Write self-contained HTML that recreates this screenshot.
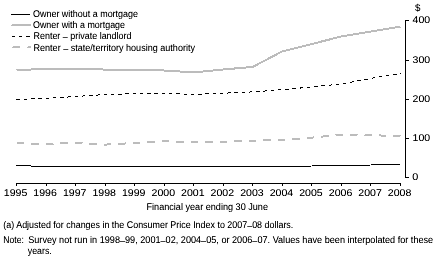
<!DOCTYPE html>
<html><head><meta charset="utf-8"><style>
html,body{margin:0;padding:0;background:#fff;width:435px;height:265px;overflow:hidden}
svg{display:block;position:absolute;left:0;top:0;will-change:transform}
</style></head><body>
<svg width="435" height="265" viewBox="0 0 435 265">
<g shape-rendering="crispEdges">
<path d="M11,14h19v1h-19z" fill="#000"/>
<path d="M11,25h1v1h-1zM12,24h19v2h-19z" fill="#bcbcbc"/>
<path d="M12,36h3v1h-3zM19,36h3v1h-3zM26,36h4v1h-4z" fill="#000"/>
<path d="M12,47h1v1h-1zM13,46h7v2h-7zM27,47h1v1h-1zM28,46h3v2h-3z" fill="#bcbcbc"/>
<path d="M16.5,186 V183.5 H400.5 V186" fill="none" stroke="#000" stroke-width="1"/>
<line x1="46.04" y1="183" x2="46.04" y2="186" stroke="#000" stroke-width="1"/>
<line x1="75.58" y1="183" x2="75.58" y2="186" stroke="#000" stroke-width="1"/>
<line x1="105.12" y1="183" x2="105.12" y2="186" stroke="#000" stroke-width="1"/>
<line x1="134.65" y1="183" x2="134.65" y2="186" stroke="#000" stroke-width="1"/>
<line x1="164.19" y1="183" x2="164.19" y2="186" stroke="#000" stroke-width="1"/>
<line x1="193.73" y1="183" x2="193.73" y2="186" stroke="#000" stroke-width="1"/>
<line x1="223.27" y1="183" x2="223.27" y2="186" stroke="#000" stroke-width="1"/>
<line x1="252.81" y1="183" x2="252.81" y2="186" stroke="#000" stroke-width="1"/>
<line x1="282.35" y1="183" x2="282.35" y2="186" stroke="#000" stroke-width="1"/>
<line x1="311.88" y1="183" x2="311.88" y2="186" stroke="#000" stroke-width="1"/>
<line x1="341.42" y1="183" x2="341.42" y2="186" stroke="#000" stroke-width="1"/>
<line x1="370.96" y1="183" x2="370.96" y2="186" stroke="#000" stroke-width="1"/>
<path d="M409,20.5 H405.5 V177.5 H409" fill="none" stroke="#000" stroke-width="1"/>
<line x1="405" y1="60.5" x2="409" y2="60.5" stroke="#000" stroke-width="1"/>
<line x1="405" y1="99.5" x2="409" y2="99.5" stroke="#000" stroke-width="1"/>
<line x1="405" y1="138.5" x2="409" y2="138.5" stroke="#000" stroke-width="1"/>
<polyline points="16.50,165.50 46.04,166.50 75.58,166.50 105.12,166.50 134.65,166.50 164.19,166.50 193.73,166.50 223.27,166.50 252.81,166.50 282.35,166.50 311.88,166.00 341.42,165.50 370.96,165.00 400.50,164.50" fill="none" stroke="#000" stroke-width="1"/>
<polyline points="16.50,70.00 46.04,69.00 75.58,69.00 105.12,69.55 134.65,70.00 164.19,70.50 193.73,72.40 223.27,69.50 252.81,66.90 282.35,51.35 311.88,44.00 341.42,36.45 370.96,31.45 400.50,26.55" fill="none" stroke="#bcbcbc" stroke-width="2"/>
<polyline points="16.50,99.50 46.04,98.50 75.58,96.50 105.12,94.50 134.65,93.70 164.19,93.34 193.73,94.50 223.27,93.20 252.81,91.90 282.35,89.70 311.88,86.95 341.42,83.90 370.96,78.40 400.50,73.40" fill="none" stroke="#000" stroke-width="1" stroke-dasharray="3.5 3.77"/>
<polyline points="16.50,143.30 46.04,143.70 75.58,143.10 105.12,144.60 134.65,143.00 164.19,141.20 193.73,142.40 223.27,142.00 252.81,140.55 282.35,140.45 311.88,137.60 341.42,134.70 370.96,135.30 400.50,135.90" fill="none" stroke="#bcbcbc" stroke-width="2" stroke-dasharray="7.5 7" stroke-dashoffset="-0.5"/>
</g>
<filter id="dk" x="0" y="0" width="435" height="265" filterUnits="userSpaceOnUse"><feComponentTransfer><feFuncA type="linear" slope="1.15" intercept="0"/></feComponentTransfer></filter>
<g font-family="Liberation Sans, sans-serif" fill="#000" text-rendering="geometricPrecision" filter="url(#dk)">
<text x="33" y="17" font-size="9.8" textLength="105" lengthAdjust="spacingAndGlyphs">Owner without a mortgage</text>
<text x="33" y="28" font-size="9.8" textLength="92" lengthAdjust="spacingAndGlyphs">Owner with a mortgage</text>
<text x="33.5" y="39" font-size="9.8" textLength="98" lengthAdjust="spacingAndGlyphs">Renter <tspan dy="0.8">–</tspan><tspan dy="-0.8"> private landlord</tspan></text>
<text x="33.5" y="51" font-size="9.8" textLength="161.5" lengthAdjust="spacingAndGlyphs">Renter <tspan dy="0.8">–</tspan><tspan dy="-0.8"> state/territory housing authority</tspan></text>
<text x="415" y="11" font-size="9.8">$</text>
<text x="412.6" y="23" font-size="9.8" textLength="17.6" lengthAdjust="spacingAndGlyphs">400</text>
<text x="412.6" y="63" font-size="9.8" textLength="17.6" lengthAdjust="spacingAndGlyphs">300</text>
<text x="412.6" y="102" font-size="9.8" textLength="17.6" lengthAdjust="spacingAndGlyphs">200</text>
<text x="412.6" y="141" font-size="9.8" textLength="17.6" lengthAdjust="spacingAndGlyphs">100</text>
<text x="412.2" y="180" font-size="9.8" textLength="6" lengthAdjust="spacingAndGlyphs">0</text>
<text x="15.60" y="196" font-size="9.8" textLength="23.5" lengthAdjust="spacingAndGlyphs" text-anchor="middle">1995</text>
<text x="45.14" y="196" font-size="9.8" textLength="23.5" lengthAdjust="spacingAndGlyphs" text-anchor="middle">1996</text>
<text x="74.68" y="196" font-size="9.8" textLength="23.5" lengthAdjust="spacingAndGlyphs" text-anchor="middle">1997</text>
<text x="104.22" y="196" font-size="9.8" textLength="23.5" lengthAdjust="spacingAndGlyphs" text-anchor="middle">1998</text>
<text x="133.75" y="196" font-size="9.8" textLength="23.5" lengthAdjust="spacingAndGlyphs" text-anchor="middle">1999</text>
<text x="163.29" y="196" font-size="9.8" textLength="23.5" lengthAdjust="spacingAndGlyphs" text-anchor="middle">2000</text>
<text x="192.83" y="196" font-size="9.8" textLength="23.5" lengthAdjust="spacingAndGlyphs" text-anchor="middle">2001</text>
<text x="222.37" y="196" font-size="9.8" textLength="23.5" lengthAdjust="spacingAndGlyphs" text-anchor="middle">2002</text>
<text x="251.91" y="196" font-size="9.8" textLength="23.5" lengthAdjust="spacingAndGlyphs" text-anchor="middle">2003</text>
<text x="281.45" y="196" font-size="9.8" textLength="23.5" lengthAdjust="spacingAndGlyphs" text-anchor="middle">2004</text>
<text x="310.98" y="196" font-size="9.8" textLength="23.5" lengthAdjust="spacingAndGlyphs" text-anchor="middle">2005</text>
<text x="340.52" y="196" font-size="9.8" textLength="23.5" lengthAdjust="spacingAndGlyphs" text-anchor="middle">2006</text>
<text x="370.06" y="196" font-size="9.8" textLength="23.5" lengthAdjust="spacingAndGlyphs" text-anchor="middle">2007</text>
<text x="399.60" y="196" font-size="9.8" textLength="23.5" lengthAdjust="spacingAndGlyphs" text-anchor="middle">2008</text>
<text x="146.5" y="210" font-size="9.8" textLength="121.5" lengthAdjust="spacingAndGlyphs">Financial year ending 30 June</text>
<text x="3.3" y="228" font-size="9.8" textLength="290" lengthAdjust="spacingAndGlyphs">(a) Adjusted for changes in the Consumer Price Index to 2007<tspan dy="0.8">–</tspan><tspan dy="-0.8">08 dollars.</tspan></text>
<text x="3.3" y="243" font-size="9.8" textLength="20.5" lengthAdjust="spacingAndGlyphs">Note:</text>
<text x="28.2" y="243" font-size="9.8" textLength="405" lengthAdjust="spacingAndGlyphs">Survey not run in 1998<tspan dy="0.8">–</tspan><tspan dy="-0.8">99, 2001</tspan><tspan dy="0.8">–</tspan><tspan dy="-0.8">02, 2004</tspan><tspan dy="0.8">–</tspan><tspan dy="-0.8">05, or 2006</tspan><tspan dy="0.8">–</tspan><tspan dy="-0.8">07. Values have been interpolated for these</tspan></text>
<text x="27.8" y="254" font-size="9.8" textLength="24" lengthAdjust="spacingAndGlyphs">years.</text>
</g>
</svg>
</body></html>
